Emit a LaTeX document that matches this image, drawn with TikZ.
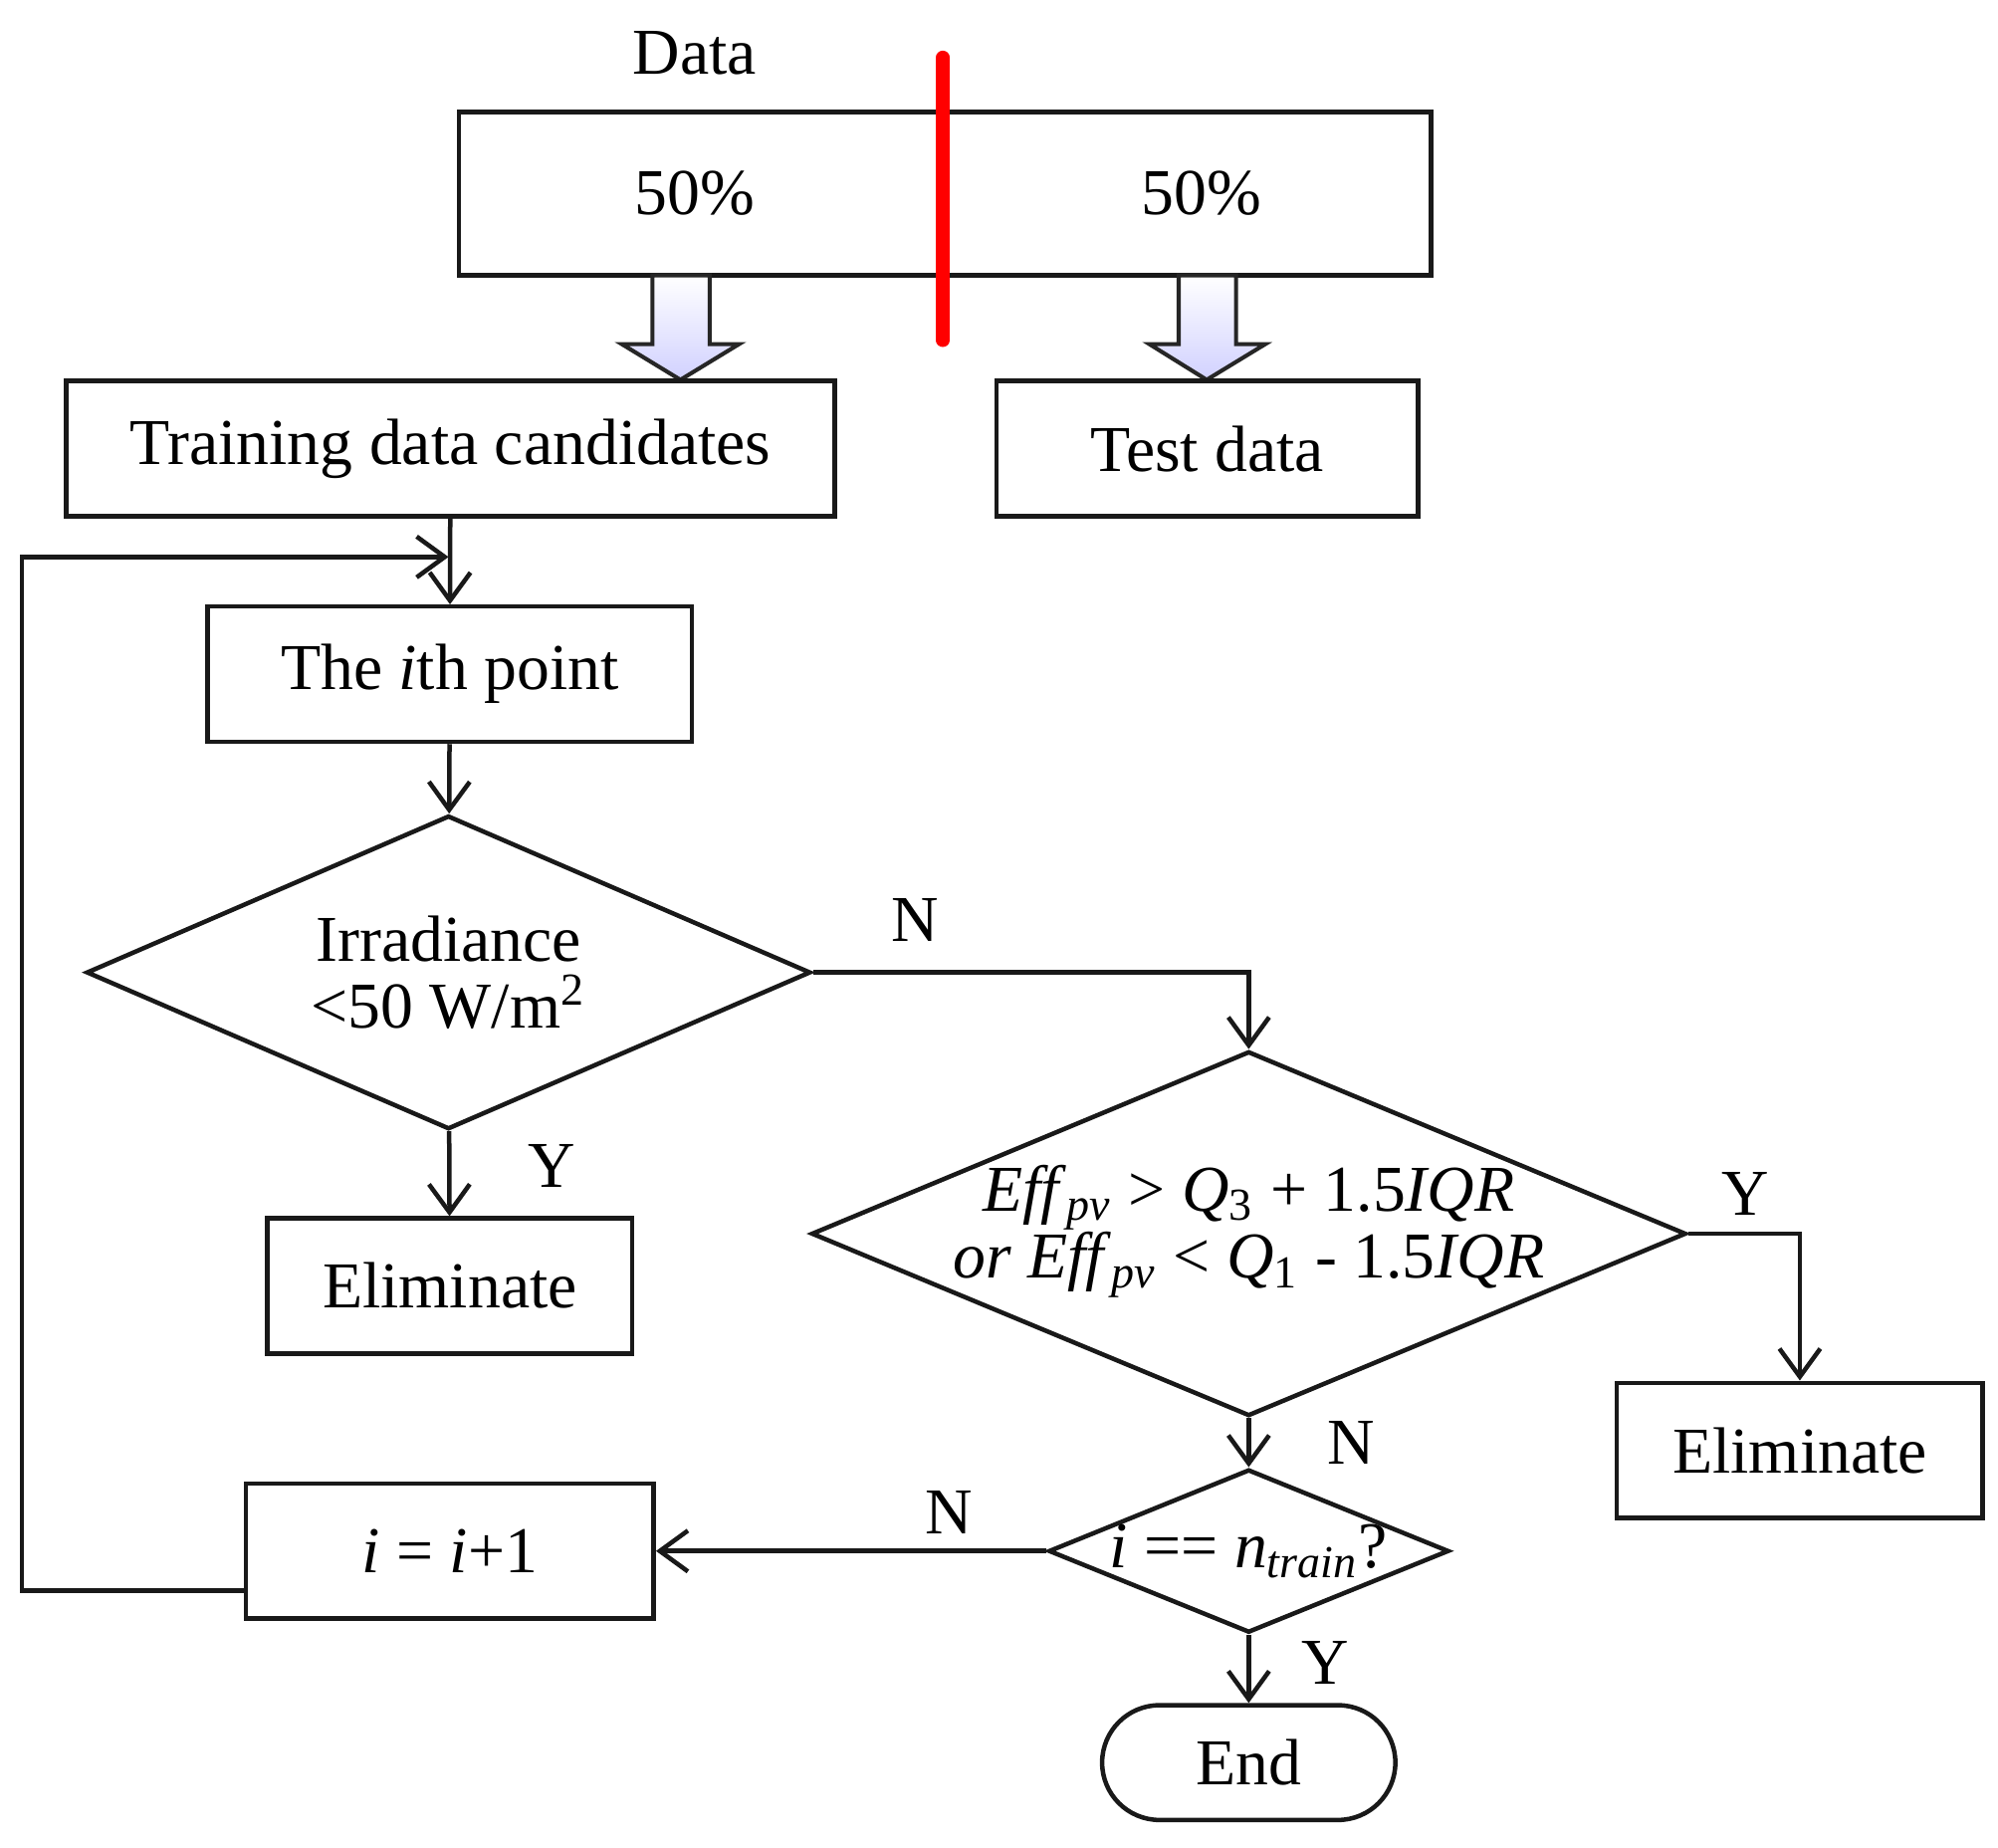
\documentclass[tikz,border=0pt]{standalone}
\usepackage{fontspec}
\setmainfont{Liberation Serif}
\usetikzlibrary{positioning}
\usetikzlibrary{shapes.geometric}
\usetikzlibrary{arrows.meta}
\tikzset{
  box/.style={draw=gray!20!black,line width=1pt,minimum width=#1,minimum height=1.06cm,inner sep=0pt},
  dia/.style={draw=gray!20!black,line width=1pt,diamond,inner sep=0pt},
  flow/.style={draw=gray!20!black,line width=1pt,-{Straight Barb[length=2.2mm,width=3.2mm]}},
  line/.style={draw=gray!20!black,line width=1pt},
  lbl/.style={inner sep=1pt},
  blockarrow/.style={draw=gray!30!black,line width=0.9pt,top color=white,bottom color=blue!18}
}
\newcommand{\itxt}[1]{\textit{#1}}
\begin{document}
\begin{tikzpicture}[x=0.01cm,y=-0.01cm,font=\fontsize{14.6}{17}\selectfont]
  \useasboundingbox (0,0) rectangle (1568,1450);
  % data split
  \node (data) at (545,42) {Data};
  \draw[line] (360,88) rectangle (1123,216);
  \node (pl) at (545,152) {50\%};
  \node (pr) at (943,152) {50\%};
  \draw[red,line width=3pt,line cap=round] (740,45) -- (740,267);
  \draw[blockarrow] (512,216) -- (557,216) -- (557,270) -- (580,270) -- (534,298)
    -- (488,270) -- (512,270) -- cycle;
  \draw[blockarrow] (925,216) -- (970,216) -- (970,270) -- (993,270) -- (947,298)
    -- (902,270) -- (925,270) -- cycle;
  % boxes
  \node[box=6.03cm] (train) at (353.5,352) {Training data candidates};
  \node[box=3.31cm] (test) at (947.5,352) {Test data};
  \node[box=3.8cm] (ith) at (353,529) {The \itxt{i}th point};
  \node[dia,minimum width=5.68cm,minimum height=2.46cm] (irr) at (352,763) {};
  \node[align=center] (irrt) at (352,763) {Irradiance\\[-2pt]<50 W/m\textsuperscript{2}};
  \node[box=2.86cm] (elim1) at (353,1009) {Eliminate};
  \node[dia,minimum width=6.86cm,minimum height=2.86cm] (eff) at (980,968) {};
  \node[align=center] (efft) at (980,966) {\itxt{Eff}\textsubscript{\itxt{pv}} > \itxt{Q}\textsubscript{3} + 1.5\itxt{IQR}\\[-2pt]
    \itxt{or Eff}\textsubscript{\itxt{pv}} < \itxt{Q}\textsubscript{1} - 1.5\itxt{IQR}};
  \node[box=2.87cm] (elim2) at (1412.5,1138) {Eliminate};
  \node[dia,minimum width=3.14cm,minimum height=1.28cm] (last) at (980,1217) {};
  \node (lastt) at (980,1217) {\itxt{i} == \itxt{n}\textsubscript{\itxt{train}}?};
  \node[box=3.2cm] (inc) at (353,1217) {\itxt{i} = \itxt{i}+1};
  \node[draw=gray!20!black,line width=1pt,rounded corners=0.45cm,minimum width=2.3cm,minimum height=0.9cm] (end) at (980,1383) {End};
  % connectors
  \coordinate (loopL) at (17,1248);
  \coordinate (loopT) at (17,437);
  \coordinate (join) at (352,437);
  \draw[flow] (train) -- (ith);
  \draw[flow] (ith) -- (irr);
  \draw[flow] (irr) -- (elim1);
  \draw[flow] (irr.east) -| (eff.north);
  \draw[flow] (eff.east) -| (elim2.north);
  \draw[flow] (eff) -- (last);
  \draw[flow] (last) -- (end);
  \draw[flow] (last) -- (inc);
  \draw[flow] (inc.west |- loopL) -- (loopL) -- (loopT) -- (join);
  % labels
  \node[lbl] (n1) at (718,722) {N};
  \node[lbl] (y1) at (433,915) {Y};
  \node[lbl] (y2) at (1370,937) {Y};
  \node[lbl] (n2) at (1060,1132) {N};
  \node[lbl] (n3) at (745,1187) {N};
  \node[lbl] (y3) at (1040,1305) {Y};
\end{tikzpicture}
\end{document}
